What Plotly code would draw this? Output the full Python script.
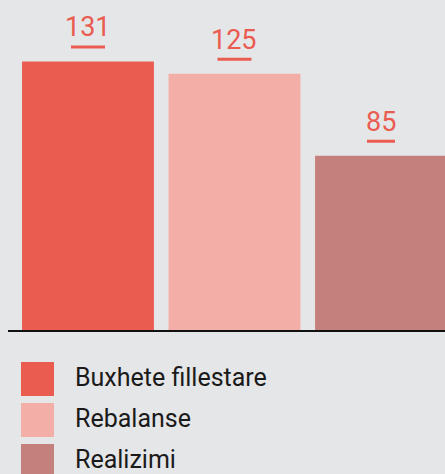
import plotly.graph_objects as go

categories = ["Buxhete fillestare", "Rebalanse", "Realizimi"]
values = [131, 125, 85]
colors = ["#EA5B50", "#F3AEA8", "#C4807C"]
label_color = "#EA5B50"

W, H = 445, 474
ml, mr, mt, mb = 8, 0, 0, 144
plot_h = H - mt - mb
BG = "#E5E6E8"
FONT = "Roboto, Liberation Sans, sans-serif"

xs = list(range(len(categories)))
fig = go.Figure()
fig.add_trace(go.Bar(x=xs, y=values, marker=dict(color=colors, line=dict(width=0)),
                     showlegend=False, hoverinfo="skip"))

# value labels with underline
for i, v in zip(xs, values):
    s = str(v)
    fig.add_annotation(x=i, y=v, xref="x", yref="y", text=s, showarrow=False,
                       yanchor="bottom", yshift=16,
                       font=dict(family=FONT, size=27, color=label_color))
    half = 3 * len(s) + 8
    fig.add_shape(type="rect", xref="x", yref="y",
                  xsizemode="pixel", ysizemode="pixel",
                  xanchor=i, yanchor=v, x0=-half, x1=half, y0=13, y1=16,
                  fillcolor=label_color, line=dict(width=0))

# manual legend
def py(pix):
    return (H - mb - pix) / plot_h

def px(pix):
    return (pix - ml) / (W - ml - mr)

row_top = [362, 403, 444]
for name, col, top in zip(categories, colors, row_top):
    fig.add_shape(type="rect", xref="paper", yref="paper",
                  x0=px(21), x1=px(54), y0=py(top), y1=py(top + 34),
                  fillcolor=col, line=dict(width=0))
    fig.add_annotation(xref="paper", yref="paper", x=px(73), y=py(top + 17) + 2 / plot_h,
                       text=name, showarrow=False, xanchor="left", yanchor="middle",
                       font=dict(family=FONT, size=25, color="#1a1a1a"))

fig.update_layout(
    width=W, height=H,
    margin=dict(l=ml, r=mr, t=mt, b=mb, pad=0),
    paper_bgcolor=BG, plot_bgcolor=BG,
    bargap=0.1,
    xaxis=dict(range=[-0.546, 2.437], showticklabels=False, showgrid=False,
               zeroline=False, showline=True, linecolor="#111111", linewidth=2,
               ticks="", fixedrange=True),
    yaxis=dict(range=[0, plot_h / 2.05], showticklabels=False, showgrid=False,
               zeroline=False, showline=False, ticks="", fixedrange=True),
    showlegend=False,
)

fig.write_html("out.html", config={"displayModeBar": False},
               post_script="document.body.style.margin='0';document.body.style.overflow='hidden';")
